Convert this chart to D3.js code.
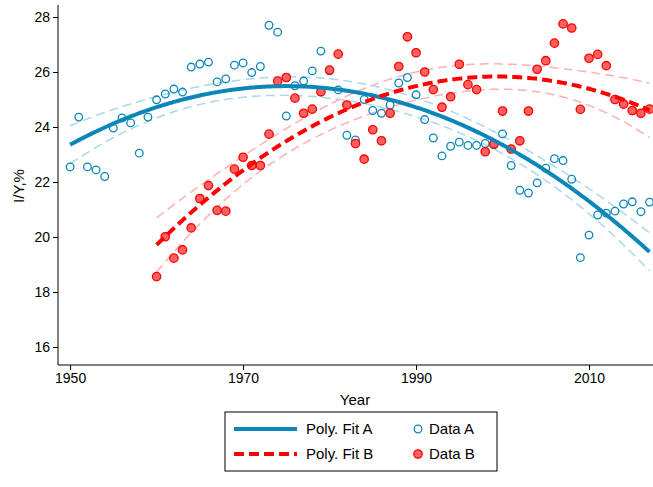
<!DOCTYPE html>
<html><head><meta charset="utf-8">
<script src="https://cdn.jsdelivr.net/npm/d3@7"></script>
<style>body{margin:0;background:#fff;font-family:"Liberation Sans",Arial,sans-serif}</style>
</head><body><svg id="chart" width="653" height="487"></svg>
<script>
const yearsA = d3.range(1950, 2018);
const valuesA = [22.55,24.36,22.55,22.44,22.2,23.96,24.33,24.15,23.05,24.36,
  24.99,25.2,25.38,25.27,26.18,26.29,26.36,25.64,25.75,26.25,
  26.33,25.98,26.2,27.7,27.45,24.4,25.5,25.67,26.04,26.76,
  26.04,25.35,23.7,23.53,25.0,24.6,24.5,24.8,25.6,25.8,
  25.17,24.27,23.6,22.95,23.3,23.45,23.33,23.33,23.4,23.35,
  23.75,22.6,21.7,21.6,21.97,22.5,22.85,22.78,22.1,19.25,
  20.07,20.8,20.87,20.94,21.2,21.28,20.92,21.27];
const yearsB = d3.range(1960, 2018);
const valuesB = [18.56,20.01,19.23,19.53,20.33,21.4,21.87,20.97,20.94,22.47,
  22.9,22.6,22.6,23.74,25.67,25.8,25.05,24.5,24.65,25.28,
  26.07,26.65,24.8,23.4,22.83,23.9,23.5,24.5,26.2,27.28,
  26.7,26.0,25.36,24.72,25.1,26.28,25.54,25.36,23.1,23.38,
  24.58,23.2,23.5,24.58,26.1,26.41,27.05,27.75,27.6,24.64,
  26.5,26.64,26.23,25.0,24.83,24.6,24.5,24.65];
const xTicks = [1950, 1970, 1990, 2010];
const yTicks = [16, 18, 20, 22, 24, 26, 28];

const BLUE = "#0a86b8", RED = "#ff0000";

// quadratic OLS fit with 95% band for the mean
function quadFit(xs, ys) {
  const c = d3.mean(xs);
  const X = xs.map(x => [1, x - c, (x - c) * (x - c)]);
  const XtX = [[0,0,0],[0,0,0],[0,0,0]], Xty = [0,0,0];
  X.forEach((r, i) => { for (let a = 0; a < 3; a++) { Xty[a] += r[a] * ys[i]; for (let b = 0; b < 3; b++) XtX[a][b] += r[a] * r[b]; } });
  const inv = inv3(XtX);
  const beta = [0,1,2].map(a => d3.sum([0,1,2], b => inv[a][b] * Xty[b]));
  const res = X.map((r, i) => ys[i] - d3.sum([0,1,2], k => r[k] * beta[k]));
  const s2 = d3.sum(res, e => e * e) / (xs.length - 3);
  return d3.range(xs[0], xs[xs.length - 1] + 0.01, 0.25).map(x => {
    const r = [1, x - c, (x - c) * (x - c)];
    const fit = d3.sum([0,1,2], k => r[k] * beta[k]);
    let v = 0;
    for (let a = 0; a < 3; a++) for (let b = 0; b < 3; b++) v += r[a] * inv[a][b] * r[b];
    const se = Math.sqrt(s2 * v);
    return { x, fit, lo: fit - 2 * se, hi: fit + 2 * se };
  });
}
function inv3(m) {
  const [[a,b,c],[d,e,f],[g,h,i]] = m;
  const A = e*i - f*h, B = -(d*i - f*g), C = d*h - e*g;
  const det = a*A + b*B + c*C;
  return [[A/det, -(b*i - c*h)/det, (b*f - c*e)/det],
          [B/det, (a*i - c*g)/det, -(a*f - c*d)/det],
          [C/det, -(a*h - b*g)/det, (a*e - b*d)/det]];
}

const svg = d3.select("#chart");
const padL = 58, padR = 653, padT = 5, padB = 365;
const x = d3.scaleLinear().domain([1948.6, 2017.4]).range([padL, padR]);
const y = d3.scaleLinear().domain([16, 28]).range([347, 17]);

svg.append("g").attr("transform", `translate(0,${padB})`)
  .call(d3.axisBottom(x).tickValues(xTicks).tickFormat(d3.format("d")).tickSize(5).tickSizeOuter(0))
  .call(g => g.select(".domain").attr("d", `M${padL},0H${padR}`));
svg.append("g").attr("transform", `translate(${padL},0)`)
  .call(d3.axisLeft(y).tickValues(yTicks).tickSize(5).tickSizeOuter(0))
  .call(g => g.select(".domain").attr("d", `M0,${padT}V${padB}`));
svg.selectAll(".tick text").attr("font-size", 14).attr("fill", "#000").attr("font-family", "Liberation Sans, Arial");
svg.selectAll(".domain,.tick line").attr("stroke", "#000");

svg.append("text").attr("x", 355).attr("y", 405).attr("text-anchor", "middle").attr("font-size", 15).text("Year");
svg.append("text").attr("transform", "translate(24,186) rotate(-90)").attr("text-anchor", "middle").attr("font-size", 15).text("I/Y,%");

const fitA = quadFit(yearsA, valuesA), fitB = quadFit(yearsB, valuesB);
const line = k => d3.line().x(d => x(d.x)).y(d => y(d[k]));

[[fitA, "#a9d8ec"], [fitB, "#ffb0b0"]].forEach(([f, col]) => {
  ["lo", "hi"].forEach(k => svg.append("path").datum(f).attr("d", line(k))
    .attr("fill", "none").attr("stroke", col).attr("stroke-width", 1.5).attr("stroke-dasharray", "9,5"));
});

svg.append("g").selectAll("circle").data(yearsA.map((yr, i) => [yr, valuesA[i]])).join("circle")
  .attr("cx", d => x(d[0])).attr("cy", d => y(d[1])).attr("r", 3.8)
  .attr("fill", "none").attr("stroke", BLUE).attr("stroke-width", 1.3);
svg.append("g").selectAll("circle").data(yearsB.map((yr, i) => [yr, valuesB[i]])).join("circle")
  .attr("cx", d => x(d[0])).attr("cy", d => y(d[1])).attr("r", 4.2)
  .attr("fill", "#ff6060").attr("stroke", RED).attr("stroke-width", 1.3);

svg.append("path").datum(fitA).attr("d", line("fit")).attr("fill", "none").attr("stroke", BLUE).attr("stroke-width", 4);
svg.append("path").datum(fitB).attr("d", line("fit")).attr("fill", "none").attr("stroke", RED).attr("stroke-width", 4).attr("stroke-dasharray", "10,5");

// legend
const lg = svg.append("g").attr("transform", "translate(225,412)");
lg.append("rect").attr("width", 272).attr("height", 59).attr("fill", "#fff").attr("stroke", "#000");
lg.append("line").attr("x1", 9).attr("x2", 72).attr("y1", 17).attr("y2", 17).attr("stroke", BLUE).attr("stroke-width", 4);
lg.append("line").attr("x1", 9).attr("x2", 72).attr("y1", 42).attr("y2", 42).attr("stroke", RED).attr("stroke-width", 4).attr("stroke-dasharray", "10,5");
lg.append("circle").attr("cx", 193).attr("cy", 17).attr("r", 3.8).attr("fill", "none").attr("stroke", BLUE).attr("stroke-width", 1.3);
lg.append("circle").attr("cx", 193).attr("cy", 42).attr("r", 4.2).attr("fill", "#ff6060").attr("stroke", RED).attr("stroke-width", 1.3);
[["Poly. Fit A", 81, 17], ["Poly. Fit B", 81, 42], ["Data A", 204, 17], ["Data B", 204, 42]].forEach(([t, tx, ty]) =>
  lg.append("text").attr("x", tx).attr("y", ty + 5).attr("font-size", 15).text(t));
</script></body></html>
